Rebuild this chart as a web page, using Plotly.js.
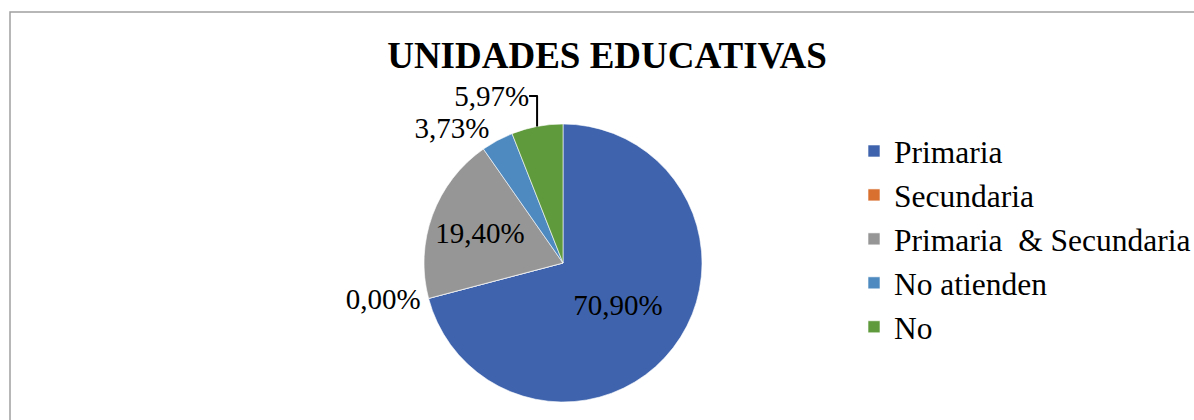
<!DOCTYPE html>
<html>
<head>
<meta charset="utf-8">
<script src="https://cdn.plot.ly/plotly-3.0.1.min.js"></script>
<style>
html, body { margin: 0; padding: 0; background: #fff; }
#chart { width: 1194px; height: 420px; }
</style>
</head>
<body>
<div id="chart"></div>
<script>
var labels = ['Primaria', 'Secundaria', 'Primaria  & Secundaria', 'No atienden', 'No'];
var values = [70.90, 0.00, 19.40, 3.73, 5.97];
var colors = ['#3F64AD', '#D97030', '#969696', '#4E8AC0', '#5F9A3C'];

var W = 1194, H = 420;

// pie centre and radius in pixels
var cx = 563, cy = 263, r = 139;

var data = [{
	type: 'pie',
	labels: labels,
	values: values,
	sort: false,
	direction: 'clockwise',
	rotation: 0,
	marker: {
		colors: colors,
		line: {color: '#ffffff', width: 0.6}
	},
	texttemplate: '%{value:.2f}%',
	textposition: ['inside', 'outside', 'inside', 'outside', 'outside'],
	insidetextorientation: 'horizontal',
	textfont: {family: 'Liberation Serif', size: 29, color: '#000'},
	outsidetextfont: {family: 'Liberation Serif', size: 29, color: '#000'},
	hoverinfo: 'label+percent',
	domain: {
		x: [(cx - r) / W, (cx + r) / W],
		y: [(H - cy - r) / H, (H - cy + r) / H]
	}
}];

var layout = {
	width: W,
	height: H,
	margin: {l: 0, r: 0, t: 0, b: 0, autoexpand: false},
	paper_bgcolor: '#fff',
	separators: ',.',
	title: {
		text: '<b>UNIDADES EDUCATIVAS</b>',
		font: {family: 'Liberation Serif', size: 37, color: '#000'},
		x: 607 / W,
		xanchor: 'center',
		xref: 'paper',
		y: 1 - 55 / H,
		yanchor: 'middle',
		yref: 'container'
	},
	showlegend: true,
	legend: {
		x: 854 / W,
		xanchor: 'left',
		y: 1 - 124 / H,
		yanchor: 'top',
		font: {family: 'Liberation Serif', size: 31.5, color: '#000'},
		bgcolor: 'rgba(0,0,0,0)'
	},
	shapes: [{
		type: 'rect',
		xref: 'paper',
		yref: 'paper',
		x0: 10 / W,
		x1: 1.05,
		y0: -0.1,
		y1: 1 - 12 / H,
		line: {color: '#A0A0A0', width: 1.5}
	}]
};

Plotly.newPlot('chart', data, layout, {displayModeBar: false, staticPlot: true});
</script>
</body>
</html>
